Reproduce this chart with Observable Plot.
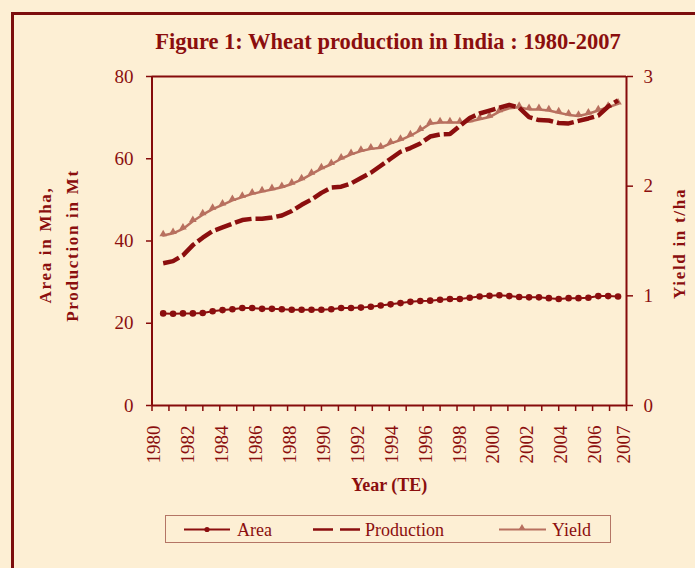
<!DOCTYPE html>
<html>
<head>
<meta charset="utf-8">
<script src="https://cdn.jsdelivr.net/npm/d3@7"></script>
<script src="https://cdn.jsdelivr.net/npm/@observablehq/plot@0.6"></script>
<style>
  html, body { margin: 0; padding: 0; background: #fdefd4; width: 695px; height: 568px; overflow: hidden; }
  body { position: relative; font-family: "Liberation Serif", "DejaVu Serif", serif; color: #8b0e0e; }
  #frame { position: absolute; left: 11px; top: 12px; width: 720px; height: 600px;
           border-left: 3px solid #7c0d0d; border-top: 3px solid #7c0d0d; box-sizing: border-box; }
  #title { position: absolute; left: 88px; width: 600px; top: 31px; text-align: center;
           font-size: 22.5px; line-height: 1; font-weight: bold; color: #8b0e0e; white-space: nowrap; }
  #chart { position: absolute; left: 0; top: 0; }
  #legend { position: absolute; left: 165px; top: 515px; width: 446px; height: 28px;
            box-sizing: border-box; border: 1.5px solid #b47565; }
  #legend svg { position: absolute; left: 0; top: 0; overflow: visible; }
</style>
</head>
<body>
<div id="frame"></div>
<div id="title">Figure 1: Wheat production in India : 1980-2007</div>
<div id="chart"></div>
<div id="legend"></div>
<script>
// ---- data ----
// 47 equally spaced observations from 1980 to 2007 (TE)
const area = [22.4, 22.3, 22.4, 22.4, 22.5, 22.9, 23.2, 23.4, 23.7, 23.7,
              23.5, 23.5, 23.4, 23.3, 23.3, 23.3, 23.3, 23.4, 23.7, 23.7,
              23.8, 24.0, 24.3, 24.6, 24.9, 25.2, 25.4, 25.5, 25.7, 25.9,
              25.9, 26.2, 26.5, 26.7, 26.8, 26.6, 26.4, 26.3, 26.3, 26.1,
              25.9, 26.1, 26.1, 26.2, 26.6, 26.6, 26.5];
const production = [34.6, 35.1, 36.5, 39.0, 40.8, 42.4, 43.3, 44.2, 45.1, 45.4,
                    45.4, 45.7, 46.2, 47.3, 48.8, 50.1, 51.7, 53.0, 53.2, 54.0,
                    55.3, 56.6, 58.3, 60.0, 61.7, 62.6, 63.7, 65.4, 65.9, 66.0,
                    68.0, 69.9, 71.0, 71.7, 72.4, 73.1, 72.4, 70.1, 69.4, 69.3,
                    68.7, 68.6, 69.2, 69.8, 70.5, 72.7, 74.2];
const yieldT = [1.55, 1.57, 1.61, 1.68, 1.74, 1.79, 1.83, 1.87, 1.90, 1.93,
                1.95, 1.97, 1.99, 2.02, 2.06, 2.11, 2.16, 2.20, 2.25, 2.29,
                2.32, 2.34, 2.35, 2.39, 2.42, 2.46, 2.51, 2.57, 2.58, 2.58,
                2.58, 2.59, 2.61, 2.63, 2.68, 2.71, 2.72, 2.70, 2.70, 2.69,
                2.67, 2.65, 2.64, 2.66, 2.69, 2.72, 2.75];
// category axis: 28 year slots (1980..2007)
const yearLabels = ["1980","1982","1984","1986","1988","1990","1992","1994",
                    "1996","1998","2000","2002","2004","2006","2007"];
const yearLabelPos = [0.5, 2.5, 4.5, 6.5, 8.5, 10.5, 12.5, 14.5, 16.5, 18.5,
                      20.5, 22.5, 24.5, 26.5, 28.2];
const leftTicks = [0, 20, 40, 60, 80];
const rightTicks = [0, 1, 2, 3];
const seriesNames = ["Area", "Production", "Yield"];
const leftTitle = ["Area in Mha,", "Production in Mt"];
const rightTitle = "Yield in t/ha";
const xTitle = "Year (TE)";

// ---- styling ----
const DARK = "#8b0e0e";
const AXIS = "#860b0b";
const YIELDC = "#b8705f";
const FONT = '"Liberation Serif", "DejaVu Serif", serif';
const LEFT_MAX = 80, RIGHT_MAX = 3;
const toLeft = v => v * LEFT_MAX / RIGHT_MAX;

const firstPos = 0.66, step = 0.5835;
const rows = area.map((a, i) => ({
  pos: firstPos + i * step, area: a, production: production[i], yieldT: yieldT[i]
}));
const labelRows = yearLabels.map((t, i) => ({label: t, pos: yearLabelPos[i]}));

const chart = Plot.plot({
  width: 695, height: 568,
  marginLeft: 151.5, marginRight: 69, marginTop: 76, marginBottom: 163,
  x: {type: "linear", domain: [0, 28], axis: null},
  y: {type: "linear", domain: [0, LEFT_MAX], axis: null},
  style: {background: "transparent", color: DARK, fontFamily: FONT, overflow: "visible"},
  marks: [
    // frame
    Plot.ruleY([0, LEFT_MAX], {stroke: AXIS, strokeWidth: 2}),
    Plot.ruleX([0, 28], {stroke: AXIS, strokeWidth: 2}),
    // left axis
    Plot.axisY({anchor: "left", ticks: leftTicks, tickSize: 5.5, tickPadding: 13,
                fontSize: 19, label: null, stroke: AXIS, strokeWidth: 1.5, fill: DARK}),
    // right axis (yield)
    Plot.axisY({anchor: "right", ticks: rightTicks.map(toLeft), tickSize: 6, tickPadding: 11,
                tickFormat: d => String(Math.round(d * RIGHT_MAX / LEFT_MAX)),
                fontSize: 19, label: null, stroke: AXIS, strokeWidth: 1.5, fill: DARK}),
    // x tick marks (category boundaries)
    Plot.axisX({anchor: "bottom", ticks: d3.range(0, 29), tickSize: 6, fill: "none",
                label: null, stroke: AXIS, strokeWidth: 1.5}),
    // x tick labels
    Plot.text(labelRows, {x: "pos", text: "label", frameAnchor: "bottom", dy: 20,
                          rotate: -90, textAnchor: "end", fontSize: 19, fill: DARK}),
    // axis titles
    Plot.text([leftTitle[0]], {text: d => d, frameAnchor: "left", dx: -106.5, dy: 4,
                                rotate: -90, textAnchor: "middle",
                                fontSize: 17, fontWeight: "bold", fill: DARK}),
    Plot.text([leftTitle[1]], {text: d => d, frameAnchor: "left", dx: -79.5, dy: 4.5,
                                rotate: -90, textAnchor: "middle",
                                fontSize: 17, fontWeight: "bold", fill: DARK}),
    Plot.text([rightTitle], {text: d => d, frameAnchor: "right", dx: 53.5, dy: 2.5,
                              rotate: -90, textAnchor: "middle",
                              fontSize: 17, fontWeight: "bold", fill: DARK}),
    Plot.text([xTitle], {text: d => d, frameAnchor: "bottom", dy: 85,
                          fontSize: 18, fontWeight: "bold", fill: DARK}),
    // series
    Plot.line(rows, {x: "pos", y: d => toLeft(d.yieldT), stroke: YIELDC, strokeWidth: 2.5}),
    Plot.dot(rows, {x: "pos", y: d => toLeft(d.yieldT), symbol: "triangle", r: 2.8,
                    fill: YIELDC, stroke: "none", dy: -1.5}),
    Plot.line(rows, {x: "pos", y: "production", stroke: DARK, strokeWidth: 4.5,
                     strokeDasharray: "17,4", strokeLinecap: "butt", strokeLinejoin: "miter"}),
    Plot.line(rows, {x: "pos", y: "area", stroke: DARK, strokeWidth: 2}),
    Plot.dot(rows, {x: "pos", y: "area", r: 3.3, fill: DARK, stroke: "none"})
  ]
});
document.getElementById("chart").appendChild(chart);
const spaced = new Set([...leftTitle, rightTitle]);
d3.select(chart).selectAll("text").filter(function() { return spaced.has(this.textContent); })
  .style("letter-spacing", "1.7px");

// ---- legend ----
const lg = d3.select("#legend").append("svg").attr("width", 446).attr("height", 28);
const cy = 13.5;
// Area
lg.append("line").attr("x1", 18).attr("x2", 64).attr("y1", cy).attr("y2", cy)
  .attr("stroke", DARK).attr("stroke-width", 2);
lg.append("circle").attr("cx", 41).attr("cy", cy).attr("r", 2.6).attr("fill", DARK);
lg.append("text").attr("x", 71).attr("y", cy + 6).attr("font-size", 18)
  .attr("font-family", FONT).attr("fill", DARK).text(seriesNames[0]);
// Production
lg.append("line").attr("x1", 147).attr("x2", 194).attr("y1", cy).attr("y2", cy)
  .attr("stroke", DARK).attr("stroke-width", 2.5).attr("stroke-dasharray", "20,7");
lg.append("text").attr("x", 199).attr("y", cy + 6).attr("font-size", 18)
  .attr("font-family", FONT).attr("fill", DARK).text(seriesNames[1]);
// Yield
lg.append("line").attr("x1", 333).attr("x2", 380).attr("y1", cy).attr("y2", cy)
  .attr("stroke", YIELDC).attr("stroke-width", 2);
lg.append("path").attr("d", d3.symbol(d3.symbolTriangle, 22)()).attr("transform", `translate(356,${cy - 1.5})`)
  .attr("fill", YIELDC);
lg.append("text").attr("x", 386).attr("y", cy + 6).attr("font-size", 18)
  .attr("font-family", FONT).attr("fill", DARK).text(seriesNames[2]);
</script>
</body>
</html>
